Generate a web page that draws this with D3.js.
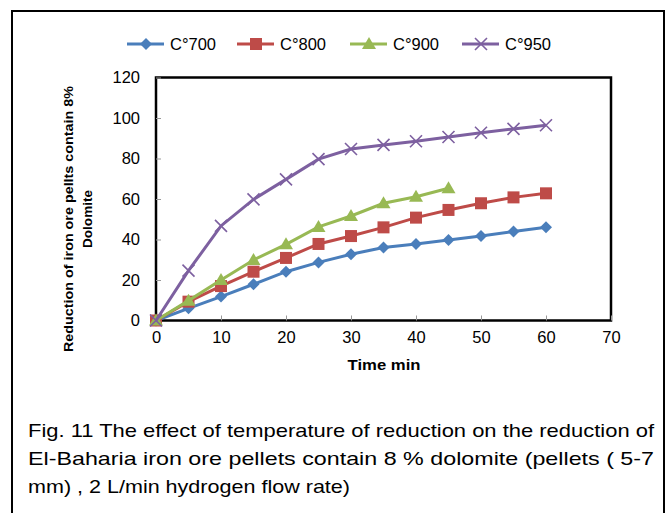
<!DOCTYPE html>
<html><head><meta charset="utf-8">
<script src="https://cdn.jsdelivr.net/npm/d3@7"></script>
<style>body{margin:0;background:#fff}svg{display:block}</style>
</head><body><svg id="c" width="672" height="513"></svg>
<script>
const times = [0,5,10,15,20,25,30,35,40,45,50,55,60];
const s700 = [0,6,11.8,17.9,24.1,28.7,32.7,36,37.8,39.8,41.7,43.9,46];
const s800 = [0,9.3,17,24.1,30.9,37.8,41.7,46,50.8,54.6,57.9,60.8,62.8];
const s900 = [0,9.8,20,29.9,37.6,46.2,51.6,57.9,61.1,65.3];
const s950 = [0,24.6,46.7,59.8,69.7,79.7,84.7,86.7,88.5,90.6,92.7,94.6,96.4];
const seriesNames = ["C°700","C°800","C°900","C°950"];
const xTicks = [0,10,20,30,40,50,60,70];
const yTicks = [0,20,40,60,80,100,120];
const captionLines = ["Fig. 11 The effect of temperature of reduction on the reduction of",
  "El-Baharia iron ore pellets contain 8 % dolomite (pellets ( 5-7",
  "mm) , 2 L/min hydrogen flow rate)"];

const colors = ["#4A7EBB","#BE4B48","#98B954","#7D60A0"];
const shapes = ["diamond","square","triangle","x"];
const data = [s700,s800,s900,s950];
const FONT = "Liberation Sans, Arial, sans-serif";

const svg = d3.select("#c");
svg.append("rect").attr("x",12).attr("y",11).attr("width",652).attr("height",520)
  .attr("fill","none").attr("stroke","#000").attr("stroke-width",2);

const x = d3.scaleLinear().domain([0,70]).range([156,611]);
const y = d3.scaleLinear().domain([0,120]).range([320.5,77.5]);

svg.append("rect").attr("x",x(0)).attr("y",y(120)).attr("width",x(70)-x(0)).attr("height",y(0)-y(120))
  .attr("fill","none").attr("stroke","#000").attr("stroke-width",2.5);

const xa = svg.append("g").attr("transform",`translate(0,${y(0)})`)
  .call(d3.axisBottom(x).tickValues(xTicks).tickSizeInner(-5).tickSizeOuter(0).tickPadding(12));
const ya = svg.append("g").attr("transform",`translate(${x(0)},0)`)
  .call(d3.axisLeft(y).tickValues(yTicks).tickSizeInner(-5).tickSizeOuter(0).tickPadding(16));
[xa,ya].forEach(a=>{
  a.select(".domain").remove();
  a.selectAll(".tick line").attr("stroke","#999").attr("stroke-width",1);
  a.selectAll(".tick text").attr("font-family",FONT).attr("font-size",16.5).attr("fill","#000");
});
xa.selectAll(".tick text").attr("dy","0.62em");

svg.append("text").attr("x",384).attr("y",370).attr("text-anchor","middle")
  .attr("font-family",FONT).attr("font-weight","bold").attr("font-size",14.5)
  .attr("textLength",73).attr("lengthAdjust","spacingAndGlyphs").text("Time min");
const yt = svg.append("g").attr("transform","translate(73,219) rotate(-90)");
yt.append("text").attr("x",0).attr("y",0).attr("text-anchor","middle")
  .attr("font-family",FONT).attr("font-weight","bold").attr("font-size",13.5)
  .attr("textLength",266).attr("lengthAdjust","spacingAndGlyphs").text("Reduction of  iron ore pellts contain 8%");
yt.append("text").attr("x",0).attr("y",19).attr("text-anchor","middle")
  .attr("font-family",FONT).attr("font-weight","bold").attr("font-size",13.5)
  .attr("textLength",58).attr("lengthAdjust","spacingAndGlyphs").text("Dolomite");

function marker(g, shape, color, cx, cy){
  if(shape==="diamond"){
    g.append("path").attr("d",`M${cx},${cy-6}L${cx+6},${cy}L${cx},${cy+6}L${cx-6},${cy}Z`).attr("fill",color);
  } else if(shape==="square"){
    g.append("rect").attr("x",cx-6).attr("y",cy-6).attr("width",12).attr("height",12).attr("fill",color);
  } else if(shape==="triangle"){
    g.append("path").attr("d",`M${cx},${cy-7}L${cx+7},${cy+5}L${cx-7},${cy+5}Z`).attr("fill",color);
  } else {
    g.append("path").attr("d",`M${cx-6},${cy-6}L${cx+6},${cy+6}M${cx-6},${cy+6}L${cx+6},${cy-6}`)
      .attr("stroke",color).attr("stroke-width",1.6).attr("fill","none");
  }
}

const line = d3.line().x((d,i)=>x(times[i])).y(d=>y(d));
data.forEach((arr,k)=>{
  const g = svg.append("g");
  g.append("path").datum(arr).attr("d",line).attr("fill","none").attr("stroke",colors[k]).attr("stroke-width",3);
  arr.forEach((v,i)=>marker(g,shapes[k],colors[k],x(times[i]),y(v)));
});

const legX = [127,237,350,462];
seriesNames.forEach((n,k)=>{
  const g = svg.append("g");
  g.append("line").attr("x1",legX[k]).attr("x2",legX[k]+37).attr("y1",44).attr("y2",44)
    .attr("stroke",colors[k]).attr("stroke-width",3);
  marker(g,shapes[k],colors[k],legX[k]+19,44);
  g.append("text").attr("x",legX[k]+43).attr("y",50)
    .attr("font-family",FONT).attr("font-size",16.5).text(n);
});

const capY = [437,465,493];
const capW = [626,626,322];
captionLines.forEach((t,i)=>{
  svg.append("text").attr("x",28).attr("y",capY[i])
    .attr("font-family",FONT).attr("font-size",19)
    .attr("textLength",capW[i]).attr("lengthAdjust","spacingAndGlyphs").text(t);
});
</script></body></html>
